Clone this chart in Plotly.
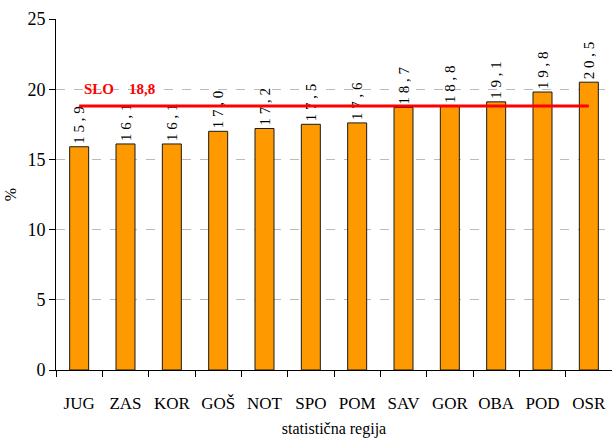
import plotly.graph_objects as go

regions = ["JUG", "ZAS", "KOR", "GOŠ", "NOT", "SPO", "POM", "SAV", "GOR", "OBA", "POD", "OSR"]
values = [15.9, 16.1, 16.1, 17.0, 17.2, 17.5, 17.6, 18.7, 18.8, 19.1, 19.8, 20.5]
slo_value = 18.8
slo_label = "SLO"

FONT = "Liberation Serif"

labels = [" ".join(f"{v:.1f}".replace(".", ",")) for v in values]

fig = go.Figure()
fig.add_trace(go.Bar(
    x=regions, y=values,
    marker=dict(color="#FF9900", line=dict(color="#1a1a1a", width=1)),
    width=0.41,
    text=labels, textposition="outside", textangle=-90,
    constraintext="none",
    textfont=dict(family=FONT, size=15, color="black"),
    cliponaxis=False,
    showlegend=False,
))
fig.add_trace(go.Scatter(
    x=[regions[0], regions[-1]], y=[slo_value, slo_value],
    mode="lines", line=dict(color="#FF0000", width=3),
    showlegend=False, hoverinfo="skip",
))
fig.add_annotation(
    x=regions[0], y=slo_value, xref="x", yref="y",
    text=f"<b>{slo_label}    {str(slo_value).replace('.', ',')}</b>",
    showarrow=False, xanchor="left", yanchor="middle",
    xshift=3, yshift=17,
    font=dict(family=FONT, size=15, color="#FF0000"),
)

fig.update_layout(
    width=612, height=441,
    margin=dict(l=56, r=0, t=19, b=71),
    paper_bgcolor="white", plot_bgcolor="white",
    font=dict(family=FONT, size=16, color="black"),
    bargap=0.59,
)
fig.update_xaxes(
    showline=True, linecolor="black", linewidth=1,
    ticks="outside", ticklen=6, tickcolor="black", tickson="boundaries",
    tickfont=dict(family=FONT, size=17),
    ticklabelstandoff=18,
    title=dict(text="statistična regija", font=dict(family=FONT, size=16), standoff=10),
    showgrid=False,
)
fig.update_yaxes(
    range=[0, 25], dtick=5,
    showline=True, linecolor="black", linewidth=1,
    ticks="outside", ticklen=6, tickcolor="black",
    tickfont=dict(family=FONT, size=18),
    showgrid=True, gridcolor="#BBBBBB", griddash="dash", gridwidth=1,
    zeroline=False,
    title=dict(text="%", font=dict(family=FONT, size=16), standoff=6),
)

fig.write_html(
    "out.html",
    config={"displayModeBar": False},
    post_script="document.body.style.margin='0';document.body.style.overflow='hidden';",
)
